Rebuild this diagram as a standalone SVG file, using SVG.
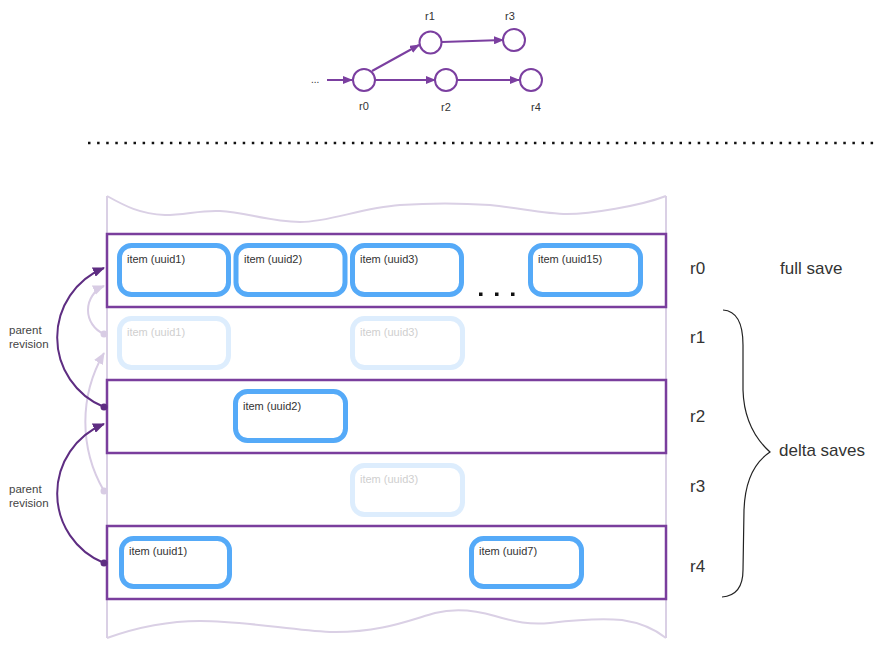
<svg xmlns="http://www.w3.org/2000/svg" width="884" height="649" viewBox="0 0 884 649">
<defs>
<style>
text{font-family:"Liberation Sans",Arial,sans-serif;fill:#333}
.g{fill:#fff;stroke:#7B3FA0;stroke-width:2}
.gl{stroke:#7B3FA0;stroke-width:2;fill:none}
.lbl{font-size:11px;text-anchor:middle}
.doc{fill:none;stroke:#DAD0E5;stroke-width:2}
.row{fill:none;stroke:#7A3E9D;stroke-width:2.5}
.item{fill:#fff;stroke:#55AAF8;stroke-width:5}
.ghost{fill:#fff;stroke:#DDEDFD;stroke-width:5}
.it{font-size:11px;fill:#333}
.itg{font-size:11px;fill:#CFCFCF}
.big{font-size:17px;fill:#333}
.pr{font-size:11.5px;fill:#444}
.arc{fill:none;stroke:#5E2D82;stroke-width:2}
.arcl{fill:none;stroke:#D8CCE4;stroke-width:2}
</style>
<marker id="ga" markerWidth="10" markerHeight="8" refX="9" refY="4" orient="auto" markerUnits="userSpaceOnUse"><path d="M0,0 L10,4 L0,8 Z" fill="#7B3FA0"/></marker>
<marker id="da" markerWidth="12" markerHeight="10" refX="11" refY="5" orient="auto" markerUnits="userSpaceOnUse"><path d="M0,0 L12,5 L0,10 Z" fill="#5E2D82"/></marker>
<marker id="la" markerWidth="12" markerHeight="10" refX="11" refY="5" orient="auto" markerUnits="userSpaceOnUse"><path d="M0,0 L12,5 L0,10 Z" fill="#D8CCE4"/></marker>
</defs>
<rect width="884" height="649" fill="#fff"/>

<!-- revision graph -->
<g id="graph-edges">
<text x="311" y="83" style="font-size:10px" fill="#555">...</text>
<line class="gl" x1="327" y1="80" x2="352" y2="80" marker-end="url(#ga)"/>
<line class="gl" x1="372" y1="71" x2="419" y2="45" marker-end="url(#ga)"/>
<line class="gl" x1="442" y1="42" x2="503" y2="40" marker-end="url(#ga)"/>
<line class="gl" x1="375" y1="80" x2="435" y2="80" marker-end="url(#ga)"/>
<line class="gl" x1="457" y1="80" x2="519" y2="80" marker-end="url(#ga)"/>
</g>
<g id="g-r0"><circle class="g" cx="364" cy="80" r="11"/><text class="lbl" x="364" y="110">r0</text></g>
<g id="g-r1"><circle class="g" cx="430.5" cy="42.5" r="11"/><text class="lbl" x="430" y="20">r1</text></g>
<g id="g-r3"><circle class="g" cx="514" cy="40" r="11"/><text class="lbl" x="510" y="20">r3</text></g>
<g id="g-r2"><circle class="g" cx="446" cy="80" r="11"/><text class="lbl" x="446" y="111">r2</text></g>
<g id="g-r4"><circle class="g" cx="531" cy="80" r="11"/><text class="lbl" x="536" y="111">r4</text></g>

<!-- dotted separator -->
<line x1="88" y1="143" x2="874" y2="143" stroke="#111" stroke-width="2.5" stroke-dasharray="2.5 6.6"/>

<!-- document -->
<g id="document">
<path class="doc" d="M107,196 C125,206 140,214 165,215 C185,215 200,210 220,211 C245,212 270,222 300,222 C330,222 360,208 400,205 C430,203 460,203 490,205 C520,208 545,214 567,214 C590,214 640,206 666,196"/>
<line class="doc" x1="107" y1="196" x2="107" y2="638"/>
<line class="doc" x1="666" y1="196" x2="666" y2="638"/>
<path class="doc" d="M107,638 C135,628 165,621 200,621 C245,621 290,630 330,632 C380,633 410,620 435,613 C455,608 475,610 495,616 C515,622 530,625 550,623 C575,620 600,618 622,620 C642,623 656,630 666,638"/>
</g>

<!-- rows -->
<g id="row-r0">
<rect class="row" x="107" y="234" width="559" height="73"/>
<g id="r0-uuid1"><rect class="item" x="119.5" y="245.5" width="109" height="49" rx="12"/><text class="it" x="127" y="263">item (uuid1)</text></g>
<g id="r0-uuid2"><rect class="item" x="236" y="245.5" width="109" height="49" rx="12"/><text class="it" x="244" y="263">item (uuid2)</text></g>
<g id="r0-uuid3"><rect class="item" x="352.5" y="245.5" width="109" height="49" rx="12"/><text class="it" x="360" y="263">item (uuid3)</text></g>
<g id="r0-dots" fill="#111"><rect x="479" y="292.5" width="3.5" height="3.5"/><rect x="495" y="292.5" width="3.5" height="3.5"/><rect x="511" y="292.5" width="3.5" height="3.5"/></g>
<g id="r0-uuid15"><rect class="item" x="530.5" y="245.5" width="110" height="49" rx="12"/><text class="it" x="538" y="263">item (uuid15)</text></g>
</g>
<g id="row-r1">
<g id="r1-uuid1"><rect class="ghost" x="119.5" y="318.5" width="109" height="49" rx="12"/><text class="itg" x="127" y="336">item (uuid1)</text></g>
<g id="r1-uuid3"><rect class="ghost" x="352.5" y="318.5" width="110" height="49" rx="12"/><text class="itg" x="360" y="336">item (uuid3)</text></g>
</g>
<g id="row-r2">
<rect class="row" x="107" y="380" width="559" height="73"/>
<g id="r2-uuid2"><rect class="item" x="235.5" y="391.5" width="110" height="49" rx="12"/><text class="it" x="243" y="410">item (uuid2)</text></g>
</g>
<g id="row-r3">
<g id="r3-uuid3"><rect class="ghost" x="352.5" y="465.5" width="110" height="49" rx="12"/><text class="itg" x="360" y="483">item (uuid3)</text></g>
</g>
<g id="row-r4">
<rect class="row" x="107" y="526" width="559" height="73"/>
<g id="r4-uuid1"><rect class="item" x="121.5" y="538.5" width="108" height="48" rx="12"/><text class="it" x="129" y="555">item (uuid1)</text></g>
<g id="r4-uuid7"><rect class="item" x="471.5" y="538.5" width="110" height="48" rx="12"/><text class="it" x="479" y="555">item (uuid7)</text></g>
</g>

<!-- parent revision connectors -->
<g id="connectors">
<path class="arcl" d="M104,334 A26,26 0 0 1 104,286" marker-end="url(#la)"/>
<circle cx="104" cy="334" r="3.5" fill="#D8CCE4"/>
<path class="arcl" d="M104,491 A137,137 0 0 1 104,353" marker-end="url(#la)"/>
<circle cx="104" cy="491" r="3.5" fill="#D8CCE4"/>
<path class="arc" d="M104,407 A75,75 0 0 1 104,268" marker-end="url(#da)"/>
<circle cx="104" cy="407" r="3.5" fill="#5E2D82"/>
<path class="arc" d="M104,563 A75,75 0 0 1 104,424" marker-end="url(#da)"/>
<circle cx="104" cy="563" r="3.5" fill="#5E2D82"/>
</g>
<g id="label-parent1"><text class="pr" x="9" y="334">parent</text><text class="pr" x="9" y="348">revision</text></g>
<g id="label-parent2"><text class="pr" x="9" y="493">parent</text><text class="pr" x="9" y="507">revision</text></g>

<!-- right labels -->
<g id="right-labels">
<text class="big" x="690" y="274">r0</text>
<text class="big" x="780" y="274">full save</text>
<text class="big" x="690" y="343">r1</text>
<text class="big" x="690" y="422">r2</text>
<text class="big" x="690" y="492">r3</text>
<text class="big" x="690" y="572">r4</text>
<text class="big" x="779" y="456">delta saves</text>
</g>
<path id="brace" d="M723,310 C738,311 743,325 743,345 L743,390 C744,425 760,443 770,452 C755,462 745,480 744,510 L743,570 C743,588 735,596 722,597" fill="none" stroke="#222" stroke-width="1.2"/>
</svg>
